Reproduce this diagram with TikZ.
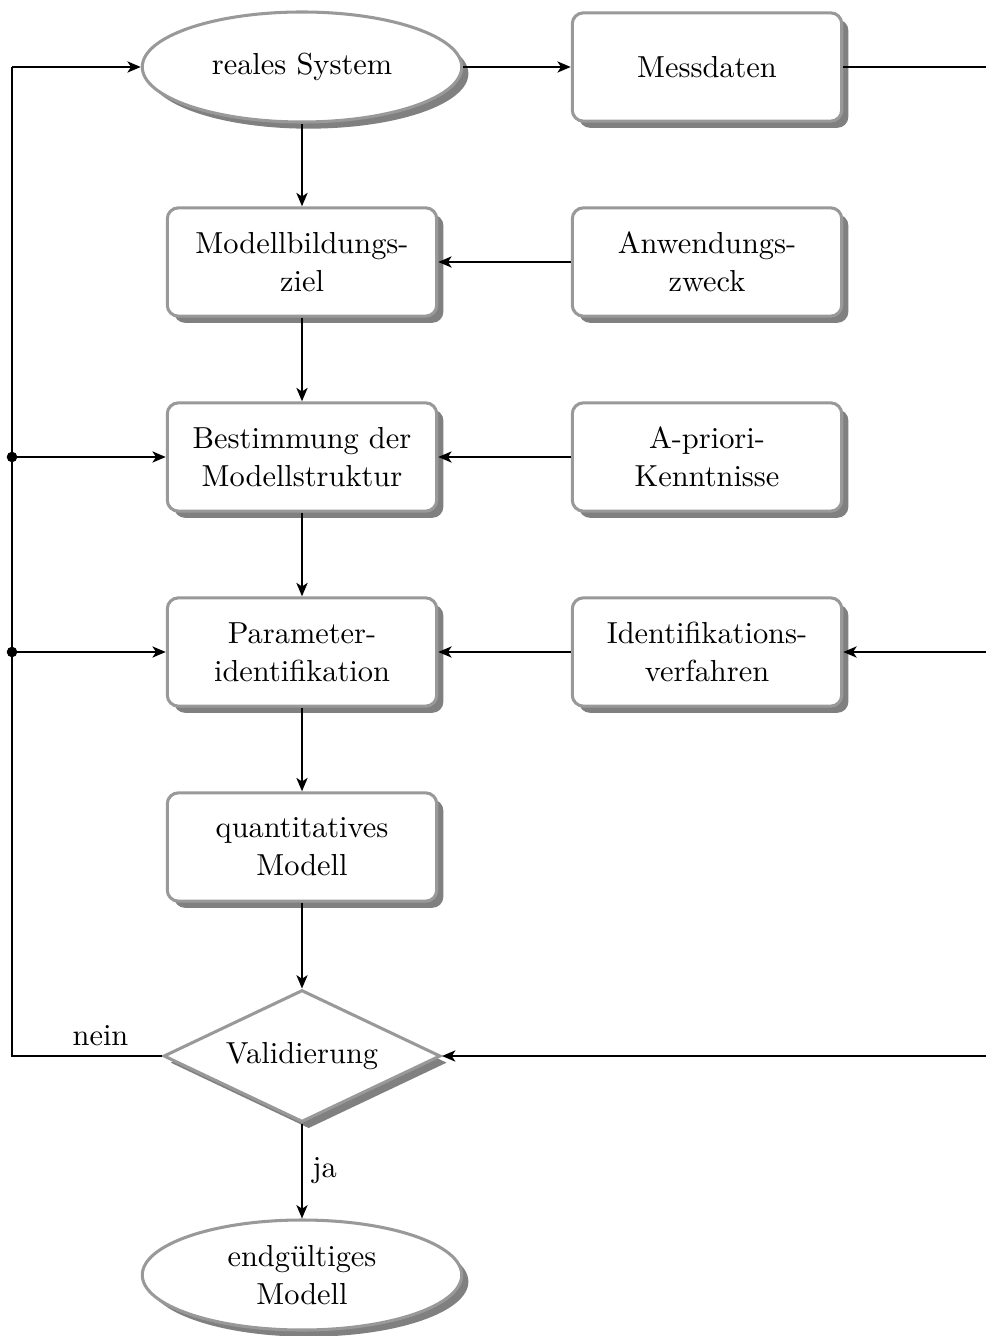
\documentclass[tikz,border=0pt]{standalone}
\usetikzlibrary{shapes.geometric,shadows,arrows.meta}
\begin{document}
\begin{tikzpicture}[x=0.36pt,y=-0.36pt,
 font=\fontsize{10.95}{13.6}\selectfont,
 base/.style={draw=black!40, line width=1.1pt, fill=white, align=center, inner sep=2pt,
   drop shadow={shadow xshift=2.4pt, shadow yshift=-2.4pt, fill=black!50, opacity=1}},
 box/.style={base, rectangle, rounded corners=4pt, minimum width=97pt, minimum height=39pt},
 ell/.style={base, ellipse, minimum width=115pt, minimum height=39.6pt},
 dec/.style={base, diamond, minimum width=99.7pt, minimum height=47.5pt, inner sep=0pt, shape aspect=2.1},
 arr/.style={-{Stealth[length=4.8pt,width=4pt,inset=1.3pt]}, line width=0.8pt},
 ln/.style={line width=0.8pt}]
\useasboundingbox (0,0) rectangle (986,1336);
\node[ell] (rs) at (302,67) {reales System};
\node[box] (md) at (707,67) {Messdaten};
\node[box] (mz) at (302,262) {Modellbildungs-\\ziel};
\node[box] (az) at (707,262) {Anwendungs-\\zweck};
\node[box] (bm) at (302,457) {Bestimmung der\\Modellstruktur};
\node[box] (ak) at (707,457) {A-priori-\\Kenntnisse};
\node[box] (pi) at (302,652) {Parameter-\\identifikation};
\node[box] (iv) at (707,652) {Identifikations-\\verfahren};
\node[box] (qm) at (302,847) {quantitatives\\Modell};
\node[dec] (va) at (302,1056) {Validierung};
\node[ell] (em) at (302,1275) {endgültiges\\Modell};
\coordinate (L1) at (12,67);
\coordinate (L2) at (12,457);
\coordinate (L3) at (12,652);
\coordinate (L4) at (12,1056);
\coordinate (R1) at (1010,67);
\coordinate (R3) at (1010,652);
\coordinate (R4) at (1010,1056);
\draw[arr] (rs) -- (md);
\draw[arr] (rs) -- (mz);
\draw[arr] (mz) -- (bm);
\draw[arr] (bm) -- (pi);
\draw[arr] (pi) -- (qm);
\draw[arr] (qm) -- (va);
\draw[arr] (az) -- (mz);
\draw[arr] (ak) -- (bm);
\draw[arr] (iv) -- (pi);
\draw[arr] (va) -- node[right]{ja} (em);
\draw[ln] (va.west) -- node[above,pos=0.41]{nein} (L4) -- (L1);
\draw[arr] (L1) -- (rs);
\draw[arr] (L2) -- (bm);
\draw[arr] (L3) -- (pi);
\fill (L2) circle (1.9pt);
\fill (L3) circle (1.9pt);
\draw[ln] (md) -- (R1) -- (R4);
\draw[arr] (R4) -- (va.east);
\draw[arr] (R3) -- (iv);
\end{tikzpicture}
\end{document}
